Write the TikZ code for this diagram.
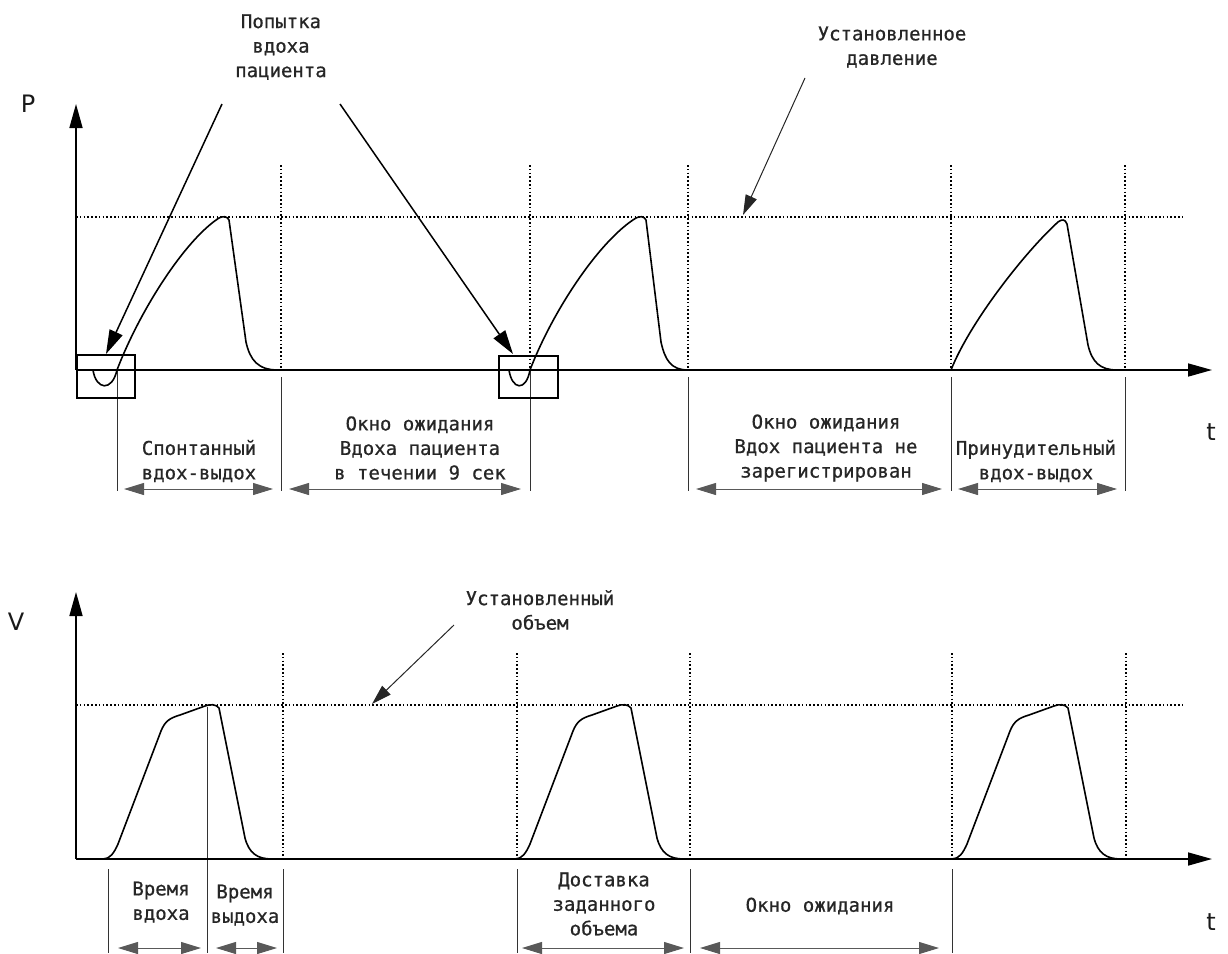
\documentclass[tikz,border=0pt]{standalone}
\usepackage{fontspec}
\setmainfont{DejaVu Sans}
\newfontfamily\monofont[FakeBold=0.7]{DejaVu Sans Mono}
\usetikzlibrary{arrows.meta}
\begin{document}
\begin{tikzpicture}[x=1pt,y=-1pt,
  lbl/.style={font=\monofont\fontsize{19}{24.5}\selectfont, align=center, text=black!85, inner sep=0pt},
  axlbl/.style={font=\fontsize{24}{24}\selectfont, inner sep=0pt, text=black!90},
  axis/.style={line width=1.6pt, -{Triangle[length=24pt,width=13pt]}},
  wave/.style={line width=1.6pt, line join=round},
  guide/.style={line width=1.4pt, dash pattern=on 1.6pt off 2.2pt},
  tick/.style={line width=1pt, black!80},
  dim/.style={line width=1pt, black!65, {Triangle[length=20pt,width=12pt]}-{Triangle[length=20pt,width=12pt]}},
  ann/.style={line width=1.5pt, -{Triangle[length=24pt,width=14pt]}},
  annthin/.style={line width=1pt, black!85, -{Triangle[length=20pt,width=12pt]}},
  boxst/.style={line width=1.2pt}
]
\useasboundingbox (0,0) rectangle (1228,953);
\clip (0,0) rectangle (1228,953);

% ================= Pressure plot =================
\coordinate (Po) at (76,370);
\coordinate (Ptop) at (76,104);
\coordinate (Pend) at (1212,370);
\node[axlbl] (Plbl) at (28,104) {P};
\node[axlbl] (tTop) at (1211,432) {t};

% set pressure and window guides
\draw[guide] (76,217) -- (1185,217);
\foreach \x in {281,530,688,951,1125} \draw[guide] (\x,165) -- (\x,370);

% solid ticks below the axis
\draw[tick] (117,370) -- (117,491);
\foreach \x in {281,688,951,1125} \draw[tick] (\x,377) -- (\x,491);
\draw[tick] (530,370) -- (530,491);

% boxes round the inspiration attempts
\draw[boxst] (77,355) rectangle (135,398) node[coordinate] (box1) {};
\draw[boxst] (499,356) rectangle (558,398) node[coordinate] (box2) {};

% pressure waves
\draw[wave] (93,370) .. controls (96,390) and (112,392) .. (117,370)
  .. controls (140,310) and (185,240) .. (219,218)
  .. controls (223,216) and (227,216) .. (229,220)
  -- (246,342) .. controls (250,360) and (258,370) .. (278,370);
\draw[wave] (509,370) .. controls (512,390) and (526,392) .. (530,370)
  .. controls (553,310) and (600,240) .. (636,218)
  .. controls (640,216) and (644,216) .. (646,220)
  -- (661,342) .. controls (665,360) and (671,370) .. (688,370);
\draw[wave] (951,370) .. controls (970,322) and (1025,252) .. (1058,222)
  .. controls (1062,219) and (1065,219) .. (1067,224)
  -- (1088,345) .. controls (1092,362) and (1100,370) .. (1117,370);

\draw[axis] (Po) -- (Ptop);
\draw[axis] (Po) -- (Pend);

% annotations
\node[lbl] (attempt) at (281,47) {Попытка\\вдоха\\пациента};
\coordinate (a1s) at (222,104);
\coordinate (a1e) at (106,354);
\coordinate (a2s) at (340,104);
\coordinate (a2e) at (513,354);
\draw[ann] (a1s) -- (a1e);
\draw[ann] (a2s) -- (a2e);

\node[lbl] (setP) at (892,47) {Установленное\\давление};
\coordinate (a3s) at (805,78);
\coordinate (a3e) at (743,215);
\draw[annthin] (a3s) -- (a3e);

% intervals
\coordinate (d1a) at (124,489); \coordinate (d1b) at (273,489);
\coordinate (d2a) at (289,489); \coordinate (d2b) at (521,489);
\coordinate (d3a) at (696,489); \coordinate (d3b) at (942,489);
\coordinate (d4a) at (958,489); \coordinate (d4b) at (1117,489);
\draw[dim] (d1a) -- (d1b);
\draw[dim] (d2a) -- (d2b);
\draw[dim] (d3a) -- (d3b);
\draw[dim] (d4a) -- (d4b);
\node[lbl] (spont) at (199,461) {Спонтанный\\вдох-выдох};
\node[lbl] (wait1) at (420,448) {Окно ожидания\\Вдоха пациента\\в течении 9 сек};
\node[lbl] (wait2) at (826,448) {Окно ожидания\\Вдох пациента не\\зарегистрирован};
\node[lbl] (forced) at (1036,461) {Принудительный\\вдох-выдох};

% ================= Volume plot =================
\coordinate (Vo) at (76,859);
\coordinate (Vtop) at (76,592);
\coordinate (Vend) at (1212,859);
\node[axlbl] (Vlbl) at (16,622) {V};
\node[axlbl] (tBot) at (1211,922) {t};

\draw[guide] (76,705) -- (1185,705);
\foreach \x in {283,517,690,952,1126} \draw[guide] (\x,653) -- (\x,859);

\foreach \x in {108,283,517,690,952} \draw[tick] (\x,869) -- (\x,953);
\draw[tick] (207,707) -- (207,953);

\foreach \s in {0,412,849}{
\begin{scope}[shift={(\s,0)}]
\draw[wave] (103,859) .. controls (110,859) and (114,853) .. (118,844)
  -- (161,731) .. controls (165,721) and (170,718) .. (180,715)
  -- (205,706) .. controls (210,704) and (216,704) .. (219,708)
  -- (245,838) .. controls (249,853) and (257,859) .. (272,859);
\end{scope}}

\draw[axis] (Vo) -- (Vtop);
\draw[axis] (Vo) -- (Vend);

\node[lbl] (setV) at (540,610) {Установленный\\объем};
\coordinate (a4s) at (454,625);
\coordinate (a4e) at (372,704);
\draw[annthin] (a4s) -- (a4e);

\coordinate (e1a) at (118,948); \coordinate (e1b) at (201,948);
\coordinate (e2a) at (216,948); \coordinate (e2b) at (277,948);
\coordinate (e3a) at (522,948); \coordinate (e3b) at (684,948);
\coordinate (e4a) at (700,948); \coordinate (e4b) at (939,948);
\draw[dim] (e1a) -- (e1b);
\draw[dim] (e2a) -- (e2b);
\draw[dim] (e3a) -- (e3b);
\draw[dim] (e4a) -- (e4b);
\node[lbl] (tin) at (161,902) {Время\\вдоха};
\node[lbl] (tout) at (245,905) {Время\\выдоха};
\node[lbl] (deliv) at (604,904) {Доставка\\заданного\\объема};
\node[lbl] (wait3) at (820,906) {Окно ожидания};
\end{tikzpicture}
\end{document}
